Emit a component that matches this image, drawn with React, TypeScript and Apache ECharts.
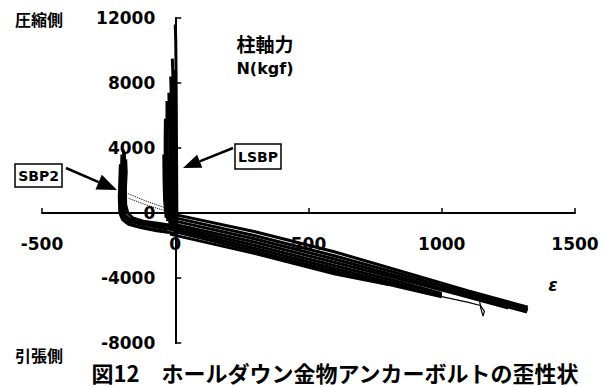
import React, { useEffect, useRef } from "react";
import * as echarts from "echarts";

type Pt = [number, number];

// Axis ranges (strain ε in μ, axial force N in kgf)
const X_MIN = -500;
const X_MAX = 1500;
const X_STEP = 500;
const Y_MIN = -8000;
const Y_MAX = 12000;
const Y_STEP = 4000;

// LSBP – compression side (near-vertical traces)
const lsbpComp1: Pt[] = [[5, -1500], [6, 0], [5, 3000], [4, 6000], [3, 8500], [2, 10500], [0, 11600]];
const lsbpComp2: Pt[] = [[-2, -1200], [-3, 1000], [-4, 4000], [-6, 7000], [-11, 9500]];
const lsbpComp3: Pt[] = [[-8, -1000], [-10, 1500], [-12, 4000], [-14, 6500], [-17, 8400]];
const lsbpComp4: Pt[] = [[-14, -900], [-18, 1000], [-20, 3500], [-22, 6000], [-24, 7400]];
const lsbpComp5: Pt[] = [[-20, -700], [-26, 1000], [-29, 3000], [-31, 5500], [-31, 6900]];
const lsbpComp6: Pt[] = [[-28, -500], [-34, 1000], [-37, 2500], [-38, 4200], [-37, 5800]];
const lsbpComp7: Pt[] = [[-34, -300], [-40, 800], [-42, 2000], [-43, 3600]];
const lsbpComp8: Pt[] = [[2, -1400], [0, 2000], [-1, 5000], [-2, 8000], [-4, 8800]];

// LSBP – tension side (sloping traces)
const lsbpTens1: Pt[] = [[0, -100], [300, -1150], [600, -2400], [850, -3600], [1100, -4800], [1323, -5800]];
const lsbpTens2: Pt[] = [[0, -300], [300, -1400], [600, -2650], [850, -3780], [1100, -4950], [1323, -5950]];
const lsbpTens3: Pt[] = [[0, -500], [300, -1600], [600, -2850], [850, -3950], [1100, -5100], [1320, -6100]];
const lsbpTens4: Pt[] = [[0, -700], [300, -1800], [600, -3050], [850, -4100], [1050, -4950], [1250, -5850]];
const lsbpTens5: Pt[] = [[0, -850], [300, -2000], [600, -3250], [850, -4280], [1000, -4950]];
const lsbpTens6: Pt[] = [[0, -1000], [300, -2180], [600, -3430], [850, -4450], [1000, -5050]];
const lsbpTens7: Pt[] = [[0, -1150], [300, -2350], [600, -3600], [850, -4580], [1000, -5150]];
const lsbpTens8: Pt[] = [[-20, -1300], [300, -2500], [600, -3750], [800, -4400]];
const lsbpHook: Pt[] = [[1000, -5150], [1100, -5500], [1145, -5690], [1160, -6050], [1155, -6350], [1147, -5900], [1140, -5200]];

// SBP2 traces
const sbp2a: Pt[] = [[-195, 3900], [-192, 3400], [-198, 2800], [-196, 2000], [-200, 1200], [-198, 300], [-190, -200], [-175, -450], [-140, -650], [-90, -800], [-40, -950], [0, -1050]];
const sbp2b: Pt[] = [[-186, 3300], [-184, 2500], [-187, 1500], [-186, 500], [-178, 0], [-160, -300], [-120, -500], [-60, -650], [0, -800]];
const sbp2c: Pt[] = [[-206, 3000], [-208, 2000], [-210, 1000], [-208, 0], [-198, -400], [-175, -700], [-130, -900], [-70, -1100], [0, -1250]];
const sbp2d: Pt[] = [[-200, 3600], [-202, 2400], [-204, 600], [-200, -250], [-185, -550], [-150, -780], [-100, -950], [-30, -1150]];
const sbp2e: Pt[] = [[-191, 3700], [-190, 2200], [-193, 800], [-190, -100], [-172, -380], [-130, -580], [-70, -730], [0, -900]];
const sbp2Dot1: Pt[] = [[-178, 1200], [-120, 800], [-60, 450], [-10, 150]];
const sbp2Dot2: Pt[] = [[-175, 900], [-110, 500], [-50, 200], [-5, 0]];

const solidThick = [lsbpComp1, lsbpComp2, lsbpComp3, lsbpComp4, lsbpComp5, lsbpComp6, lsbpComp7, lsbpComp8,
  lsbpTens1, lsbpTens2, lsbpTens3, lsbpTens4, lsbpTens5, lsbpTens6, lsbpTens7, lsbpTens8,
  sbp2a, sbp2b, sbp2c, sbp2d, sbp2e];
const solidThin = [lsbpHook];
const dottedLines = [sbp2Dot1, sbp2Dot2];

const AXIS_FONT = { fontFamily: "DejaVu Sans", fontWeight: "bold" as const, fontSize: 17, color: "#000" };

const W = 607;
const H = 387;
const G_LEFT = 42;
const G_RIGHT = 32;
const G_TOP = 18;
const G_BOTTOM = 44;
const gridW = W - G_LEFT - G_RIGHT;
const gridH = H - G_TOP - G_BOTTOM;
// shift axes so they cross at the origin
const xAxisOffset = -gridH * (0 - Y_MIN) / (Y_MAX - Y_MIN);
const yAxisOffset = -gridW * (0 - X_MIN) / (X_MAX - X_MIN);

function mk(data: Pt[], width: number, type: string) {
  return {
    type: "line",
    data,
    showSymbol: false,
    symbol: "none",
    silent: true,
    lineStyle: { color: "#000", width, type },
  };
}

function arrow(tail: Pt, tip: Pt, len: number, half: number) {
  const dx = tip[0] - tail[0];
  const dy = tip[1] - tail[1];
  const d = Math.hypot(dx, dy);
  const ux = dx / d, uy = dy / d;
  const bx = tip[0] - ux * len, by = tip[1] - uy * len;
  const px = -uy, py = ux;
  return [
    { type: "line", shape: { x1: tail[0], y1: tail[1], x2: bx, y2: by }, style: { stroke: "#000", lineWidth: 2.5 } },
    { type: "polygon", shape: { points: [tip, [bx + px * half, by + py * half], [bx - px * half, by - py * half]] }, style: { fill: "#000" } },
  ];
}

export default function App() {
  const ref = useRef<HTMLDivElement>(null);
  useEffect(() => {
    if (!ref.current) return;
    const chart = echarts.init(ref.current, undefined, { renderer: "svg" });
    const series = [
      ...solidThick.map((d) => mk(d, 3, "solid")),
      ...solidThin.map((d) => mk(d, 1.2, "solid")),
      ...dottedLines.map((d) => mk(d, 1, "dotted")),
    ];
    const cjk = '"Noto Sans CJK JP"';
    chart.setOption({
      animation: false,
      backgroundColor: "#fff",
      grid: { left: G_LEFT, right: G_RIGHT, top: G_TOP, bottom: G_BOTTOM, containLabel: false, outerBoundsMode: "none" },
      xAxis: {
        type: "value",
        position: "bottom",
        offset: xAxisOffset,
        min: X_MIN,
        max: X_MAX,
        interval: X_STEP,
        axisLine: { onZero: false, lineStyle: { color: "#000", width: 2 } },
        axisTick: { inside: true, length: 5, lineStyle: { color: "#000", width: 1.5 } },
        axisLabel: { ...AXIS_FONT, margin: 22, formatter: (v: number) => String(v) },
        splitLine: { show: false },
      },
      yAxis: {
        type: "value",
        position: "left",
        offset: yAxisOffset,
        min: Y_MIN,
        max: Y_MAX,
        interval: Y_STEP,
        axisLine: { onZero: false, lineStyle: { color: "#000", width: 2 } },
        axisTick: { inside: true, length: 6, lineStyle: { color: "#000", width: 1.5 } },
        axisLabel: { ...AXIS_FONT, margin: 20, formatter: (v: number) => String(v) },
        splitLine: { show: false },
      },
      series,
      graphic: [
        { type: "text", x: 15, y: 19, style: { text: "圧縮側", font: `bold 16px ${cjk}`, fill: "#000", textVerticalAlign: "middle" } },
        { type: "text", x: 15, y: 355, style: { text: "引張側", font: `bold 16px ${cjk}`, fill: "#000", textVerticalAlign: "middle" } },
        { type: "text", x: 265, y: 43, style: { text: "柱軸力", font: `bold 19px ${cjk}`, fill: "#000", textAlign: "center", textVerticalAlign: "middle" } },
        { type: "text", x: 265, y: 68, style: { text: "N(kgf)", font: 'bold 16px "DejaVu Sans"', fill: "#000", textAlign: "center", textVerticalAlign: "middle" } },
        { type: "text", x: 553, y: 285, style: { text: "ε", font: 'italic bold 17px "DejaVu Sans"', fill: "#000", textAlign: "center", textVerticalAlign: "middle" } },
        { type: "rect", shape: { x: 15, y: 164, width: 47, height: 23 }, style: { fill: "#fff", stroke: "#000", lineWidth: 1.5 } },
        { type: "text", x: 38.5, y: 176, style: { text: "SBP2", font: 'bold 14px "DejaVu Sans"', fill: "#000", textAlign: "center", textVerticalAlign: "middle" } },
        { type: "rect", shape: { x: 235, y: 144, width: 46, height: 25 }, style: { fill: "#fff", stroke: "#000", lineWidth: 1.5 } },
        { type: "text", x: 258, y: 157, style: { text: "LSBP", font: 'bold 14px "DejaVu Sans"', fill: "#000", textAlign: "center", textVerticalAlign: "middle" } },
        ...arrow([66, 168], [117, 190], 20, 8),
        ...arrow([233, 148], [183, 168], 18, 7),
        { type: "text", x: 335, y: 372, style: { text: "図12　ホールダウン金物アンカーボルトの歪性状", font: `bold 22px ${cjk}`, fill: "#000", textAlign: "center", textVerticalAlign: "middle" } },
      ],
    });
    return () => chart.dispose();
  }, []);
  return <div ref={ref} style={{ position: "fixed", left: 0, top: 0, width: W, height: H, background: "#fff" }} />;
}
